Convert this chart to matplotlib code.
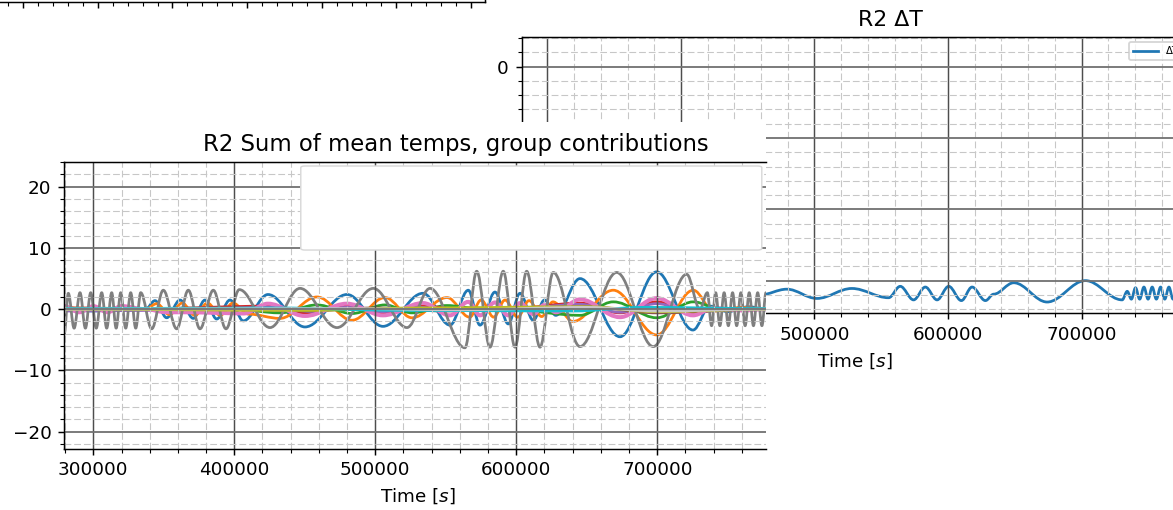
import matplotlib
matplotlib.use("Agg")
import matplotlib.pyplot as plt
from matplotlib.patches import Rectangle, FancyBboxPatch, PathPatch
from matplotlib.path import Path
from matplotlib.lines import Line2D
from matplotlib.ticker import MultipleLocator, AutoMinorLocator

# ---- data (peaks / troughs of each trace) ----
# R2 dT window (right)
dt_t = [450000, 459300, 479300, 501800, 528000, 555500, 564200, 574200, 583000, 591800,
        600500, 610000, 618000, 628000, 634200, 649200, 674200, 702900, 730400, 734200,
        737300, 740400, 743500, 746700, 749800, 752900, 756000, 759200, 762300, 765400,
        768500, 771600, 774700, 777500]
dt_v = [-3.17, -3.20, -3.12, -3.25, -3.11, -3.24, -3.08, -3.27, -3.09, -3.27,
        -3.08, -3.28, -3.09, -3.28, -3.19, -3.03, -3.30, -3.00, -3.27, -3.15,
        -3.26, -3.10, -3.26, -3.09, -3.26, -3.09, -3.26, -3.09, -3.26, -3.09,
        -3.26, -3.09, -3.26, -3.12]

# R2 sum of mean temps, group contributions (left window)
blue_t = [279430, 300000, 320000, 337000, 343760, 352050, 361490, 370920, 379220, 387510,
          396950, 406380, 423900, 450140, 479920, 505450, 533820, 552960, 565950, 574250,
          584890, 594320, 602620, 612050, 620000, 628000, 645170, 673540, 699560, 725300,
          737370, 750000, 765000, 777100]
blue_v = [0.3, -0.3, 0.3, 0.0, 1.4, -1.4, 1.5, -1.5, 1.5, -1.6,
          1.5, -1.9, 2.4, -2.9, 2.4, -2.8, 2.6, -2.6, 3.1, -2.6,
          2.8, -2.4, 2.6, -1.8, 1.5, -1.0, 5.0, -4.5, 6.1, -3.4,
          0.5, -0.4, 0.4, 0.0]

orange_t = [279430, 337000, 345000, 354000, 363000, 372000, 381000, 390000, 399000, 410000,
            432400, 458650, 483470, 506880, 526030, 550850, 567000, 575000, 584000, 592000,
            601000, 609000, 618000, 626000, 640150, 668790, 699560, 725520, 740000, 760000,
            777100]
orange_v = [0.2, 0.0, 0.9, -0.9, 1.0, -1.0, 1.0, -1.0, 1.0, -0.8,
            -1.5, 2.0, -1.8, 1.9, -1.4, 1.9, -1.3, 1.5, -1.3, 1.5,
            -1.3, 1.4, -1.2, 1.2, -2.0, 3.1, -4.2, 3.1, -0.3, 0.3,
            0.0]

green_t = [279430, 400000, 432400, 458650, 483470, 506880, 526030, 550850, 570000, 600000,
           645170, 668790, 699560, 725520, 745000, 777100]
green_v = [0.1, 0.0, -0.6, 0.7, -0.7, 0.7, -0.6, 0.6, 0.2, -0.2,
           -1.0, 1.2, -1.4, 1.2, 0.0, 0.1]

red_t = [279430, 340000, 423900, 450140, 479920, 505450, 533820, 560000, 600000, 645170,
         673540, 699560, 725300, 750000, 777100]
red_v = [0.2, 0.1, 0.5, -0.6, 0.5, -0.6, 0.5, 0.0, 0.2, 1.0,
         -0.6, 1.2, -0.5, 0.1, 0.0]

purple_t = [279430, 340000, 430000, 455000, 480000, 505000, 530000, 560000, 600000, 645170,
            673540, 699560, 725300, 750000, 777100]
purple_v = [-0.3, -0.2, 0.3, -0.4, 0.3, -0.4, 0.3, -0.2, 0.1, 0.8,
            -0.5, 0.9, -0.4, 0.0, -0.1]

brown_t = [279430, 400000, 450000, 500000, 550000, 600000, 650000, 700000, 777100]
brown_v = [0.0, 0.1, -0.3, 0.2, -0.3, 0.2, 0.4, -0.6, 0.0]

pink_t = [279430, 290000, 300000, 310000, 320000, 337000, 352050, 370920, 387510, 406380,
          423900, 450140, 479920, 505450, 533820, 552960, 565950, 574250, 584890, 594320,
          602620, 612050, 620000, 628000, 645170, 673540, 699560, 725300, 740000, 760000,
          777100]
pink_v = [0.5, -0.5, 0.5, -0.5, 0.5, 0.0, -0.5, -0.5, -0.6, -0.7,
          0.9, -1.1, 0.9, -1.0, 1.0, -1.0, 1.2, -1.0, 1.1, -1.0,
          1.0, -0.8, 0.7, -0.5, 1.6, -1.3, 1.8, -1.0, 0.2, -0.2,
          0.0]

gray_t = [279430, 282270, 286400, 290570, 294400, 298160, 302100, 305960, 309500, 313050,
          316200, 319430, 323000, 326520, 330100, 333620, 341420, 349640, 359150, 367370,
          375670, 385100, 394110, 403540, 425320, 446590, 472830, 498580, 522480, 538790,
          563610, 571910, 581340, 590770, 599070, 607370, 616800, 626230, 645170, 671190,
          697150, 720840, 730270, 735500, 738500, 741400, 744400, 747400, 750400, 753400,
          756300, 759300, 762300, 765200, 768200, 771200, 774200, 777100]
gray_v = [-4.0, 2.6, -3.1, 2.7, -3.1, 2.7, -3.1, 2.7, -3.1, 2.7,
          -3.1, 2.7, -3.1, 2.7, -3.1, 2.7, -3.2, 3.1, -3.2, 3.1,
          -3.2, 3.1, -3.2, 3.2, -3.0, 3.4, -3.0, 3.4, -3.0, 3.4,
          -6.3, 6.2, -6.2, 6.2, -6.2, 6.2, -6.2, 6.0, -6.1, 6.0,
          -6.1, 5.7, 0.0, 2.7, -2.7, 2.7, -2.7, 2.7, -2.7, 2.7,
          -2.7, 2.7, -2.7, 2.7, -2.7, 2.7, -2.7, 2.7]

olive_t = [279430, 450000, 530000, 650000, 700000, 777100]
olive_v = [0.0, -0.2, 0.2, 0.4, -0.4, 0.0]
cyan_t = [279430, 430000, 520000, 640000, 690000, 777100]
cyan_v = [0.1, 0.2, -0.2, -0.3, 0.3, 0.1]
light_t = [279430, 480000, 560000, 650000, 700000, 777100]
light_v = [0.0, 0.1, -0.1, 0.3, -0.3, 0.0]

left_series = [
    (blue_t, blue_v, 'C0', 1.5), (orange_t, orange_v, 'C1', 1.5),
    (green_t, green_v, 'C2', 1.5), (red_t, red_v, 'C3', 1.5),
    (purple_t, purple_v, 'C4', 1.5), (brown_t, brown_v, 'C5', 1.5),
    (pink_t, pink_v, 'C6', 2.2), (gray_t, gray_v, 'C7', 1.5),
    (olive_t, olive_v, 'C8', 1.5), (cyan_t, cyan_v, 'C9', 1.5),
    (light_t, light_v, '#c7c7c7', 1.5),
]

# ---- layout: pixel boxes of the overlapping windows ----
W, H, DPI = 1173, 510, 132
plt.rcParams['lines.scale_dashes'] = False
fig = plt.figure(figsize=(W / DPI, H / DPI), dpi=DPI)


def box(l, t, r, b):
    """pixel box measured from the top-left corner -> figure fraction"""
    return [l / W, 1 - b / H, (r - l) / W, (b - t) / H]


def wave(ax, t, v, color, lw=1.5):
    # draw the trace through its extrema with smooth (flat-topped) bezier segments
    verts = [(t[0], v[0])]
    codes = [Path.MOVETO]
    for i in range(len(t) - 1):
        d = 0.36 * (t[i + 1] - t[i])
        verts += [(t[i] + d, v[i]), (t[i + 1] - d, v[i + 1]), (t[i + 1], v[i + 1])]
        codes += [Path.CURVE4] * 3
    ax.add_patch(PathPatch(Path(verts, codes), fill=False, edgecolor=color,
                           lw=lw, capstyle='round', joinstyle='round'))


def style_grid(ax):
    ax.xaxis.set_minor_locator(AutoMinorLocator(5))
    ax.yaxis.set_minor_locator(AutoMinorLocator(5))
    ax.grid(True, which='major', axis='x', color='0.3', lw=0.8)
    ax.grid(True, which='major', axis='y', color='0.45', lw=1.0)
    ax.grid(True, which='minor', color='0.78', ls='--', lw=0.6)


# window behind everything: only the bottom axis line is left on screen
ax_top = fig.add_axes(box(0, -100, 485, 1.7))
ax_top.set_xlim(268800, 918900)
ax_top.xaxis.set_major_locator(MultipleLocator(100000))
ax_top.xaxis.set_minor_locator(AutoMinorLocator(5))
ax_top.set_yticks([])
ax_top.tick_params(labelbottom=False)
ax_top.spines['top'].set_visible(False)
ax_top.spines['left'].set_visible(False)
ax_top.set_zorder(0)

# R2 dT window
ax_r = fig.add_axes(box(521.7, 37, 1188, 313))
wave(ax_r, dt_t, dt_v, 'C0')
ax_r.set_xlim(280750, 779700)
ax_r.set_ylim(-3.454, 0.4165)
ax_r.xaxis.set_major_locator(MultipleLocator(100000))
ax_r.yaxis.set_major_locator(MultipleLocator(1))
style_grid(ax_r)
ax_r.set_title('R2 ΔT', x=0.554)
ax_r.set_xlabel('Time [$s$]')
ax_r.legend(handles=[Line2D([], [], color='C0', label='ΔT')], loc='upper right',
            fontsize=5.5, handlelength=2.5)
ax_r.set_zorder(1)

# the left window sits on top of the right one
cover = Rectangle((0, 0), 766 / W, 1 - 122 / H, transform=fig.transFigure,
                  facecolor='white', edgecolor='none', zorder=2)
fig.add_artist(cover)

ax_l = fig.add_axes(box(64.3, 161.7, 766, 448.5))
for t, v, c, lw in left_series:
    wave(ax_l, t, v, c, lw)
ax_l.set_xlim(279430, 777100)
ax_l.set_ylim(-22.74, 24.08)
ax_l.xaxis.set_major_locator(MultipleLocator(100000))
ax_l.yaxis.set_major_locator(MultipleLocator(10))
style_grid(ax_l)
ax_l.spines['right'].set_visible(False)
ax_l.set_title('R2 Sum of mean temps, group contributions', x=0.558, fontsize=12.4)
ax_l.set_xlabel('Time [$s$]', x=0.504)
# legend frame whose entries did not show up in the capture
ax_l.add_patch(FancyBboxPatch((0.337, 0.692), 0.657, 0.293,
                              boxstyle='round,pad=0,rounding_size=0.006',
                              transform=ax_l.transAxes, facecolor='white',
                              edgecolor='0.85', lw=0.8, zorder=5))
ax_l.set_zorder(3)

fig.savefig('out.png', dpi=DPI)
